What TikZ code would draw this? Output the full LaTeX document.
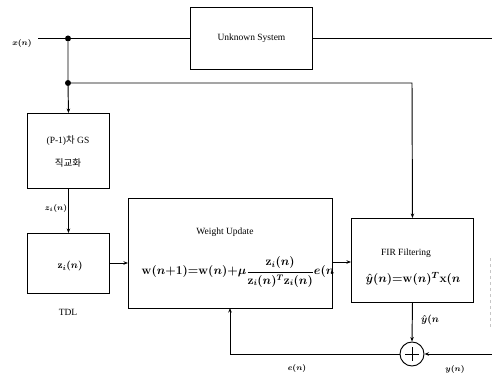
\documentclass[tikz,border=0pt]{standalone}
\usepackage{amsmath}
\usepackage{fontspec}
\setmainfont{Liberation Serif}
\newfontfamily\kr{Noto Sans CJK KR}
\usetikzlibrary{arrows.meta,calc}
\begin{document}
\begin{tikzpicture}[x=1pt,y=-1pt,
  blk/.style={draw,line width=0.95pt,inner sep=0pt,anchor=north west},
  conn/.style={line width=0.95pt},
  arr/.style={conn,-{Stealth[length=4.5pt,width=3.5pt]}},
  jdot/.style={circle,fill,inner sep=0pt,minimum size=6pt},
  lbl/.style={font=\boldmath\bfseries\itshape\fontsize{8}{9}\selectfont,inner sep=0pt},
  ttl/.style={font=\fontsize{9.5}{10}\selectfont,inner sep=0pt},
  fml/.style={font=\boldmath\fontsize{12}{14}\selectfont,inner sep=0pt}]
\useasboundingbox (0,0) rectangle (492,374);
% blocks
\node[blk,minimum width=122pt,minimum height=62pt] (us) at (190,7) {};
\node[ttl] (ust) at (us.center) {Unknown System};
\node[blk,minimum width=82pt,minimum height=75pt] (gs) at (27,113) {};
\node[ttl,align=center,font=\fontsize{9.5}{23}\selectfont] (gst) at (68,151) {(P-1){\kr 차} GS\\{\kr 직교화}};
\node[blk,minimum width=82pt,minimum height=60pt] (tdl) at (27,233) {};
\node[fml,font=\boldmath\fontsize{10}{12}\selectfont] (tdlt) at (70,266) {$\mathbf{z}_i(n)$};
\node[ttl] (tdll) at (68,312) {TDL};
\node[blk,minimum width=204pt,minimum height=110pt] (wu) at (128,198) {};
\node[ttl] (wut) at (225,232) {Weight Update};
\node[fml] (wuf) at (238,272)
  {$\mathbf{w}(n{+}1){=}\mathbf{w}(n){+}\mu\dfrac{\mathbf{z}_i(n)}{\mathbf{z}_i(n)^T\mathbf{z}_i(n)}e(n$};
\node[blk,minimum width=122pt,minimum height=84pt] (fir) at (351,218) {};
\node[ttl] (firt) at (406,253) {FIR Filtering};
\node[fml,font=\boldmath\fontsize{12.3}{14}\selectfont] (firf) at (413,279)
  {$\hat{y}(n){=}\mathbf{w}(n)^T\mathbf{x}(n$};
\node[circle,draw,line width=0.95pt,minimum size=24pt,inner sep=0pt] (sum) at (412,354) {};
\draw[line width=0.95pt] ($(sum.center)+(-7,0)$) -- ($(sum.center)+(7,0)$)
  ($(sum.center)+(0,-7)$) -- ($(sum.center)+(0,7)$);
% junctions and free ends
\node[jdot] (j1) at (68,38.5) {};
\node[jdot] (j2) at (68,83) {};
\coordinate (xin) at (38,38.5);
\coordinate (uout) at (492,38.5);
\coordinate (firc) at (412,83);
\coordinate (yin) at (492,354);
\coordinate (ec) at (230,308);
% labels
\node[lbl] (xl) at (22,44) {$x(n)$};
\node[lbl] (zl) at (56,208) {$z_i(n)$};
\node[lbl,font=\boldmath\fontsize{10}{11}\selectfont] (yhl) at (430,320) {$\hat{y}(n$};
\node[lbl] (el) at (297,368) {$e(n)$};
\node[lbl] (yl) at (455,369) {$y(n)$};
% connectors
\draw[conn] (xin) -- (j1) -- (j1 -| us.west);
\draw[conn] (us.east |- uout) -- (uout);
\draw[arr] (j1) -- (j2) -- (gs.north);
\draw[arr] (j2) -- (firc) -- (fir.north);
\draw[arr] (gs.south) -- (tdl.north);
\draw[arr] (tdl.east |- 0,263) -- (wu.west |- 0,263);
\draw[arr] (wu.east |- 0,262) -- (fir.west |- 0,262);
\draw[arr] (fir.south) -- (sum.north);
\draw[arr] (yin) -- (sum.east);
\draw[arr] (sum.west) -| (ec);
\draw[gray!45,dashed,line width=0.6pt] (490,258) -- (490,327);
\end{tikzpicture}
\end{document}
